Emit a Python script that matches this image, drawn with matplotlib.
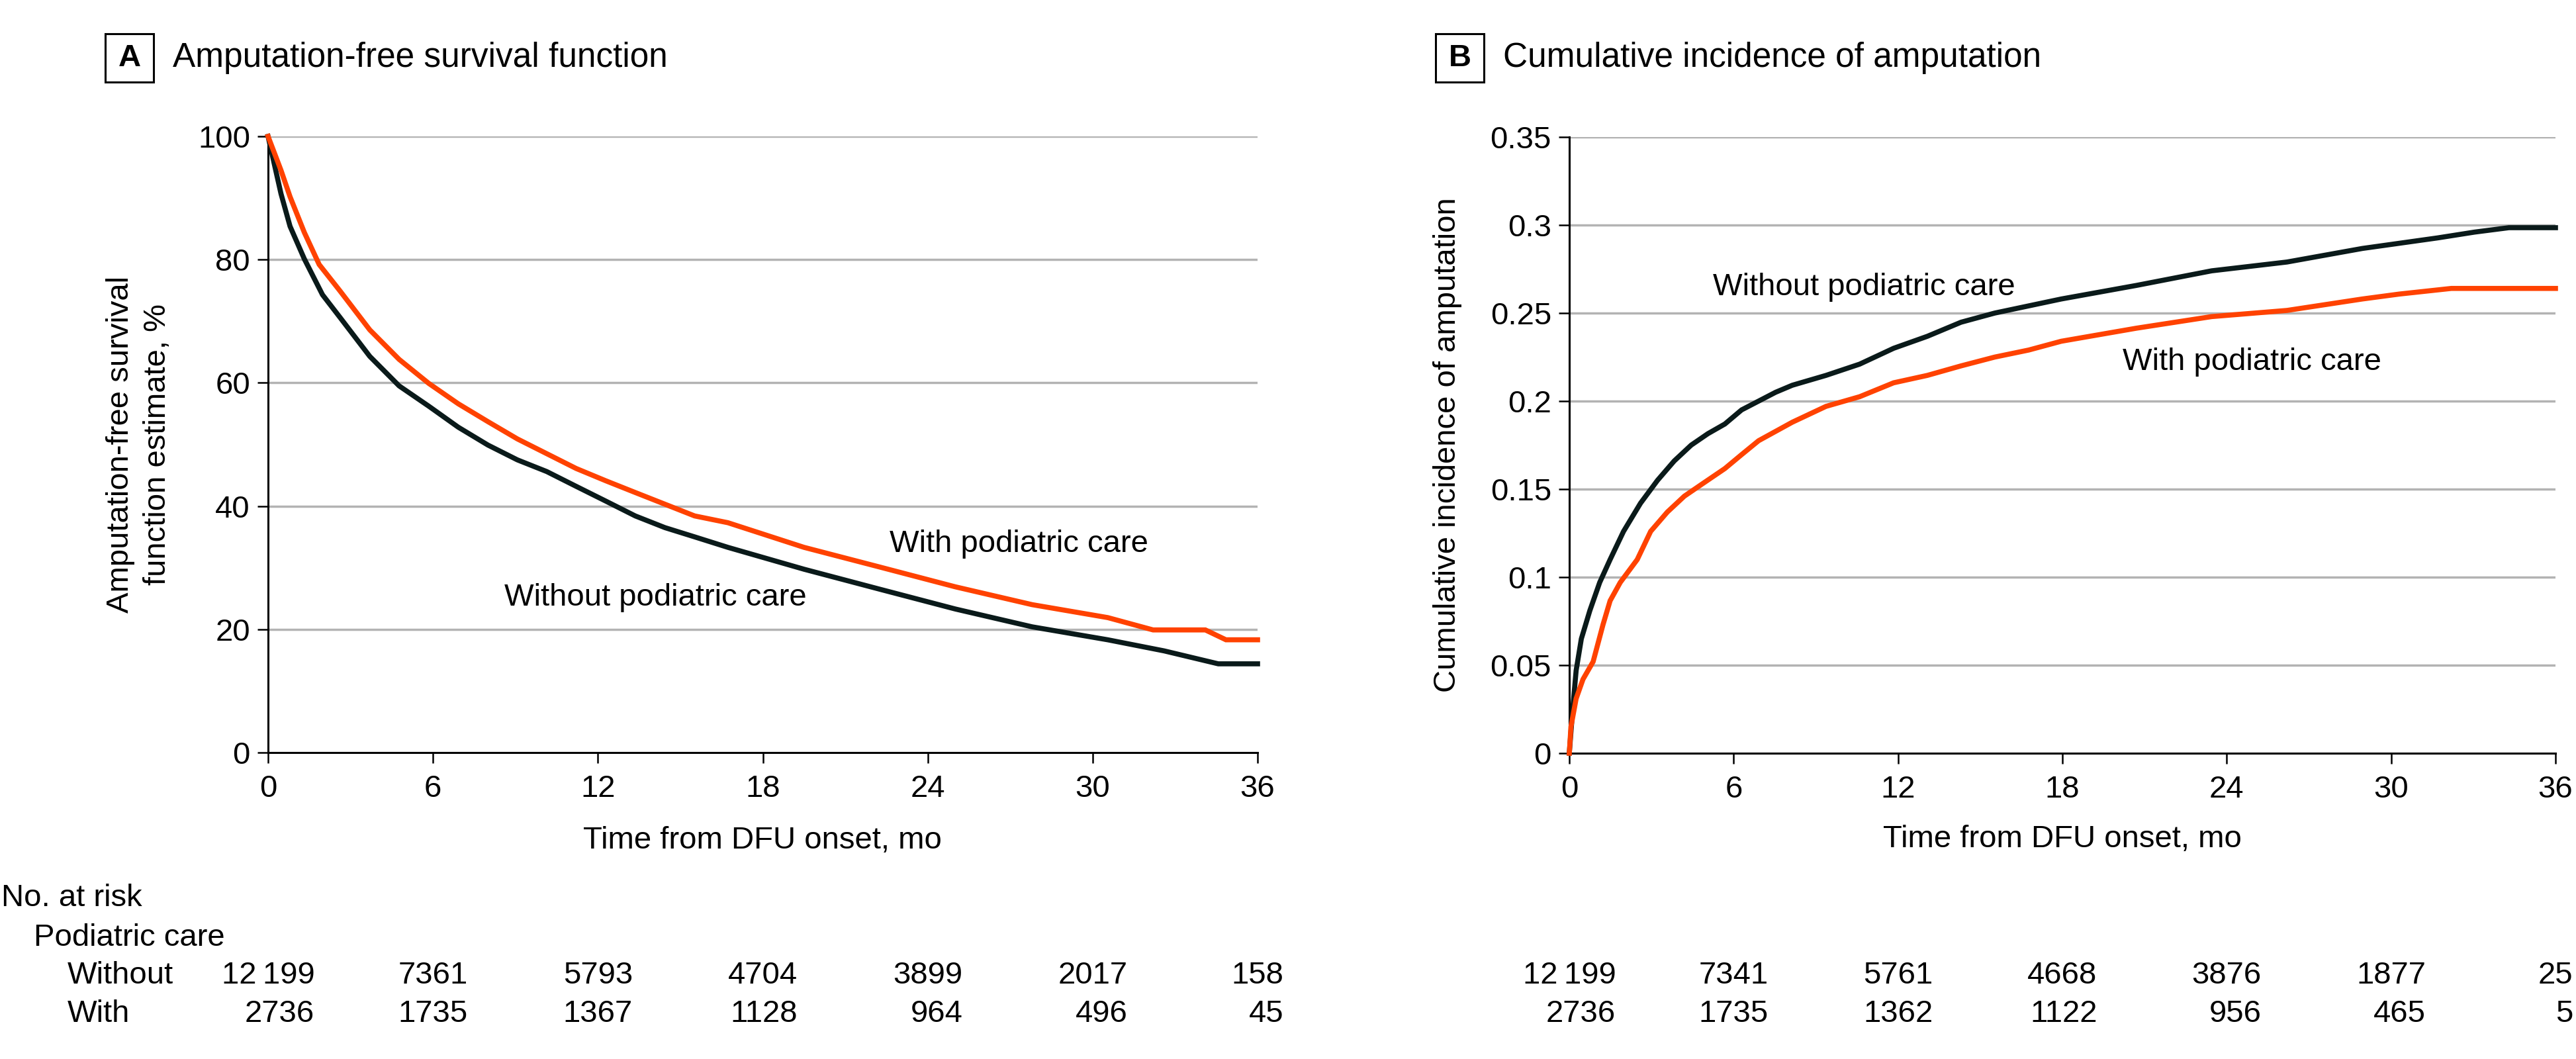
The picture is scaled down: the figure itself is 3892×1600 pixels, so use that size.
import matplotlib
matplotlib.use('Agg')
import matplotlib.pyplot as plt
from matplotlib.patches import Rectangle
from matplotlib import transforms

plt.rcParams['font.family'] = ['Liberation Sans', 'DejaVu Sans']

# Panel A: amputation-free survival (%)
a_without_t = [0, 0.47, 0.80, 1.32, 1.98, 2.62, 3.70, 4.77, 5.85, 6.92, 8.0, 9.07, 10.14, 11.21,
               12.29, 13.36, 14.44, 15.52, 16.73, 19.5, 22.26, 25.0, 27.8, 30.55, 32.6, 34.57, 36]
a_without_v = [100, 90.7, 85.4, 80.1, 74.3, 70.6, 64.3, 59.5, 56.2, 52.8, 49.9, 47.5, 45.6, 43.2,
               40.8, 38.4, 36.5, 35.0, 33.3, 29.75, 26.5, 23.3, 20.4, 18.3, 16.5, 14.4, 14.4]
a_with_t = [0, 0.47, 0.80, 1.32, 1.86, 2.62, 3.70, 4.77, 5.85, 6.92, 8.0, 9.07, 10.14, 11.21,
            12.29, 13.36, 14.44, 15.52, 16.73, 19.5, 22.26, 25.0, 27.8, 30.55, 32.2, 34.1, 34.85, 36]
a_with_v = [100, 94.5, 90.2, 84.4, 79.2, 74.9, 68.6, 63.8, 59.9, 56.6, 53.7, 50.9, 48.5, 46.1,
            44.1, 42.2, 40.3, 38.4, 37.3, 33.3, 30.1, 26.9, 24.0, 21.9, 19.9, 19.9, 18.3, 18.3]

# Panel B: cumulative incidence of amputation
b_without_t = [0, 0.13, 0.25, 0.44, 0.75, 1.11, 1.49, 1.98, 2.6, 3.22, 3.83, 4.45, 5.06, 5.68,
               6.29, 6.91, 7.53, 8.14, 9.37, 10.6, 11.84, 13.07, 14.3, 15.53, 17.96, 20.7, 23.45,
               26.2, 28.95, 31.7, 33.05, 34.3, 36]
b_without_v = [0, 0.026, 0.047, 0.065, 0.081, 0.097, 0.110, 0.126, 0.142, 0.155, 0.166, 0.175,
               0.1815, 0.187, 0.195, 0.200, 0.205, 0.209, 0.2146, 0.221, 0.230, 0.2368, 0.2448,
               0.250, 0.258, 0.2657, 0.274, 0.279, 0.2867, 0.2927, 0.296, 0.2985, 0.2985]
b_with_t = [0, 0.06, 0.25, 0.5, 0.87, 1.23, 1.49, 1.86, 2.48, 2.97, 3.58, 4.2, 4.81, 5.68, 6.29,
            6.91, 8.14, 9.37, 10.6, 11.84, 13.07, 14.3, 15.53, 16.77, 17.96, 20.7, 23.45, 26.2,
            28.95, 30.3, 32.2, 36]
b_with_v = [0, 0.015, 0.031, 0.042, 0.052, 0.073, 0.0866, 0.097, 0.110, 0.126, 0.137, 0.146,
            0.1525, 0.1617, 0.1696, 0.1775, 0.188, 0.197, 0.2025, 0.2104, 0.2146, 0.220, 0.225,
            0.229, 0.234, 0.2414, 0.248, 0.2515, 0.258, 0.2608, 0.264, 0.264]

# Numbers at risk
risk_times = [0, 6, 12, 18, 24, 30, 36]
a_risk_without = ['12\u2009199', '7361', '5793', '4704', '3899', '2017', '158']
a_risk_with = ['2736', '1735', '1367', '1128', '964', '496', '45']
b_risk_without = ['12\u2009199', '7341', '5761', '4668', '3876', '1877', '25']
b_risk_with = ['2736', '1735', '1362', '1122', '956', '465', '5']

a_yticks = [0, 20, 40, 60, 80, 100]
b_yticks = [0, 0.05, 0.1, 0.15, 0.2, 0.25, 0.3, 0.35]
b_ylabels = ['0', '0.05', '0.1', '0.15', '0.2', '0.25', '0.3', '0.35']

BLACK = '#0a1a1a'
ORANGE = '#ff4200'
GRID = '#b3b3b3'
FS = 34

W, H = 3892, 1600
fig = plt.figure(figsize=(W / 100, H / 100), dpi=100)


def fx(px):
    return px / W


def fy(py):
    return 1 - py / H


axA = fig.add_axes([fx(405), fy(1137), fx(1900) - fx(405), fy(206) - fy(1137)])
axB = fig.add_axes([fx(2371), fy(1138), fx(3861) - fx(2371), fy(207) - fy(1138)])


def style_axis(ax, yticks, ylabels, ymax):
    ax.set_xlim(0, 36)
    ax.set_ylim(0, ymax)
    ax.set_xticks(risk_times)
    ax.set_yticks(yticks)
    ax.set_yticklabels(ylabels)
    for y in yticks[1:]:
        ax.axhline(y, color=GRID, lw=2.5, zorder=1)
    for s in ['top', 'right']:
        ax.spines[s].set_visible(False)
    for s in ['left', 'bottom']:
        ax.spines[s].set_linewidth(2.2)
        ax.spines[s].set_zorder(3)
    ax.tick_params(axis='both', labelsize=FS, length=11.5, width=1.8, direction='out')
    ax.tick_params(axis='x', pad=12)
    ax.tick_params(axis='y', pad=8)


style_axis(axA, a_yticks, [str(v) for v in a_yticks], 100)
style_axis(axB, b_yticks, b_ylabels, 0.35)

axA.plot(a_without_t, a_without_v, color=BLACK, lw=5.5, zorder=4, clip_on=False, solid_joinstyle='miter')
axA.plot(a_with_t, a_with_v, color=ORANGE, lw=5.5, zorder=5, clip_on=False, solid_joinstyle='miter')
axB.plot(b_without_t, b_without_v, color=BLACK, lw=5.5, zorder=4, clip_on=False, solid_joinstyle='miter')
axB.plot(b_with_t, b_with_v, color=ORANGE, lw=5.5, zorder=5, clip_on=False, solid_joinstyle='miter')

# curve labels
axA.text(22.6, 33.8, 'With podiatric care', fontsize=FS, ha='left', va='center')
axA.text(19.6, 25.1, 'Without podiatric care', fontsize=FS, ha='right', va='center')
axB.text(5.24, 0.2646, 'Without podiatric care', fontsize=FS, ha='left', va='center')
axB.text(20.2, 0.222, 'With podiatric care', fontsize=FS, ha='left', va='center')

# axis labels
fig.text(fx(1152), fy(1270), 'Time from DFU onset, mo', fontsize=FS, ha='center', va='center')
fig.text(fx(3116), fy(1268), 'Time from DFU onset, mo', fontsize=FS, ha='center', va='center')
fig.text(fx(210), fy(671), 'Amputation-free survival\nfunction estimate, %', fontsize=FS,
         rotation=90, ha='center', va='center', multialignment='center', linespacing=1.35)
fig.text(fx(2187), fy(672), 'Cumulative incidence of amputation', fontsize=FS,
         rotation=90, ha='center', va='center')


# panel headers
def panel_header(letter, box_left, text_left):
    fig.add_artist(Rectangle((fx(box_left), fy(124)), fx(73), 73 / H, transform=fig.transFigure,
                             fill=False, ec='black', lw=2.2))
    fig.text(fx(box_left + 36.5), fy(88), letter, fontsize=FS, fontweight='bold',
             ha='center', va='center')


panel_header('A', 159, 261)
fig.text(fx(261), fy(87), 'Amputation-free survival function', fontsize=37, ha='left', va='center')
panel_header('B', 2169, 2271)
fig.text(fx(2271), fy(87), 'Cumulative incidence of amputation', fontsize=37, ha='left', va='center')

# number at risk table
fig.text(fx(2), fy(1357), 'No. at risk', fontsize=FS, ha='left', va='center')
fig.text(fx(51), fy(1417), 'Podiatric care', fontsize=FS, ha='left', va='center')
fig.text(fx(102), fy(1474), 'Without', fontsize=FS, ha='left', va='center')
fig.text(fx(102), fy(1532), 'With', fontsize=FS, ha='left', va='center')


def risk_rows(ax, top, bottom):
    tr = transforms.blended_transform_factory(ax.transData, fig.transFigure)
    for t, a, b in zip(risk_times, top, bottom):
        txt = ax.text(t, fy(1474), a, transform=tr, fontsize=FS, ha='center', va='center',
                      clip_on=False)
        ax.annotate(b, xy=(1, 0.5), xycoords=txt, xytext=(0, -58 * 0.72),
                    textcoords='offset points', fontsize=FS, ha='right', va='center',
                    annotation_clip=False)


risk_rows(axA, a_risk_without, a_risk_with)
risk_rows(axB, b_risk_without, b_risk_with)

fig.savefig('out.png', dpi=100, facecolor='white')
